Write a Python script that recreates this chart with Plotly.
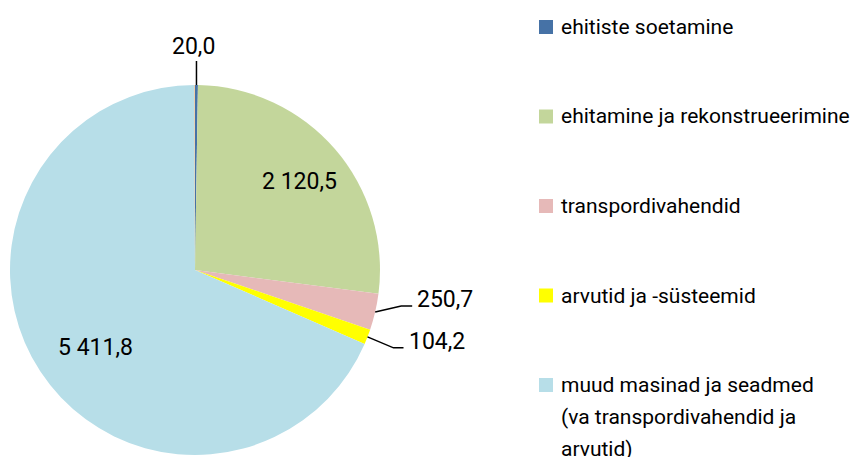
import math
import plotly.graph_objects as go

# ---- data ----
categories = ["ehitiste soetamine", "ehitamine ja rekonstrueerimine", "transpordivahendid",
              "arvutid ja -süsteemid", "muud masinad ja seadmed (va transpordivahendid ja arvutid)", "muu"]
values = [20.0, 2120.5, 250.7, 104.2, 5411.8, 4.0]
value_labels = ["20,0", "2 120,5", "250,7", "104,2", "5 411,8", ""]
legend_lines = [["ehitiste soetamine"], ["ehitamine ja rekonstrueerimine"], ["transpordivahendid"],
                ["arvutid ja -süsteemid"], ["muud masinad ja seadmed", "(va transpordivahendid ja", "arvutid)"]]
colors = ["#4672A6", "#C3D69B", "#E6B9B8", "#FFFF00", "#B7DEE8", "#F9B26E"]

# ---- layout geometry (pixels) ----
W, H = 852, 457
CX, CY, R = 195, 270, 185
FONT = "Roboto, sans-serif"

def px(x):
    return x / W

def py(y):
    return 1 - y / H

fig = go.Figure(go.Pie(
    labels=categories, values=values, sort=False, direction="clockwise", rotation=0,
    marker=dict(colors=colors, line=dict(width=0)), textinfo="none", hoverinfo="label+value",
    showlegend=False,
    domain=dict(x=[px(CX - R), px(CX + R)], y=[py(CY + R), py(CY - R)]),
))

total = sum(values)
cum = 0
mids = []
for v in values:
    mids.append((cum + v / 2) / total * 2 * math.pi)
    cum += v

def pt(ang, r):
    return CX + r * math.sin(ang), CY - r * math.cos(ang)

annotations = []
shapes = []
numfont = dict(family=FONT, size=23, color="#000")

# label placement style: (mode, params)
label_style = [
    ("top", dict(len=24)),
    ("inside", dict(r=0.73, ox=2, oy=0)),
    ("elbow", dict(dx=26, dy=-6, h=11)),
    ("elbow", dict(dx=26, dy=11, h=10)),
    ("inside", dict(r=0.68, ox=6, oy=8)),
    (None, {}),
]

for i, (mode, p) in enumerate(label_style):
    if mode is None:
        continue
    a = mids[i]
    if mode == "inside":
        x, y = pt(a, p["r"] * R)
        x += p["ox"]
        y += p["oy"]
        annotations.append(dict(x=px(x), y=py(y), xref="paper", yref="paper", text=value_labels[i],
                                showarrow=False, font=numfont, xanchor="center", yanchor="middle"))
    elif mode == "top":
        x0, y0 = pt(a, R)
        y1 = y0 - p["len"]
        shapes.append(dict(type="line", xref="paper", yref="paper", x0=px(x0), y0=py(y0), x1=px(x0), y1=py(y1),
                           line=dict(color="#000", width=1.5)))
        annotations.append(dict(x=px(x0 - 3), y=py(y1 + 1), xref="paper", yref="paper", text=value_labels[i],
                                showarrow=False, font=numfont, xanchor="center", yanchor="bottom"))
    elif mode == "elbow":
        x0, y0 = pt(a, R)
        x1, y1 = x0 + p["dx"], y0 + p["dy"]
        x2 = x1 + p["h"]
        path = f"M {px(x0)},{py(y0)} L {px(x1)},{py(y1)} L {px(x2)},{py(y1)}"
        shapes.append(dict(type="path", xref="paper", yref="paper", path=path,
                           line=dict(color="#000", width=1.5)))
        annotations.append(dict(x=px(x2 + 3), y=py(y1 - 6), xref="paper", yref="paper", text=value_labels[i],
                                showarrow=False, font=numfont, xanchor="left", yanchor="middle"))

# ---- manual legend ----
LEG_X = 539
SQ = 14
leg_y0 = 27
leg_step = 89.5
line_step = 32
legfont = dict(family=FONT, size=21, color="#000")
for i, lines in enumerate(legend_lines):
    yc = leg_y0 + i * leg_step
    shapes.append(dict(type="rect", xref="paper", yref="paper", x0=px(LEG_X), x1=px(LEG_X + SQ),
                       y0=py(yc + SQ / 2), y1=py(yc - SQ / 2), fillcolor=colors[i], line=dict(width=0)))
    for j, t in enumerate(lines):
        annotations.append(dict(x=px(LEG_X + SQ + 6), y=py(yc + j * line_step), xref="paper", yref="paper",
                                text=t, showarrow=False, font=legfont, xanchor="left", yanchor="middle"))

fig.update_layout(
    width=W, height=H, margin=dict(l=0, r=0, t=0, b=0),
    paper_bgcolor="white", plot_bgcolor="white",
    annotations=annotations, shapes=shapes,
)
fig.write_html("out.html", config={"displayModeBar": False},
               post_script="document.body.style.margin='0';")
